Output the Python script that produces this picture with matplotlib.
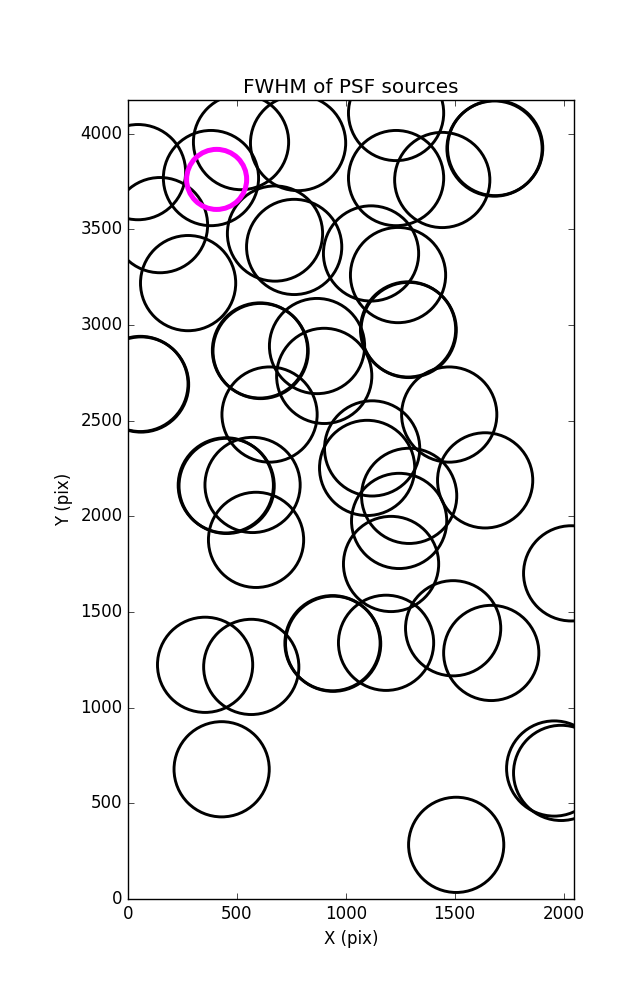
import numpy as np
import matplotlib
matplotlib.use('Agg')
import matplotlib.pyplot as plt

plt.style.use('classic')

# source positions (pix)
x_src = [46, 147, 381, 519, 781, 1231, 1231, 1443, 1686, 1683,
         276, 675, 763, 1116, 1240, 60, 57, 606, 609, 868,
         901, 1289, 1286, 650, 1475, 1121, 1098, 453, 449, 572,
         1291, 1245, 1640, 588, 1208, 2035, 354, 566, 942, 939,
         1185, 1493, 1668, 430, 1957, 1989, 1507]
y_src = [3799, 3522, 3768, 3956, 3951, 4108, 3768, 3758, 3925, 3922,
         3219, 3478, 3408, 3374, 3261, 2689, 2692, 2867, 2864, 2890,
         2734, 2974, 2977, 2532, 2532, 2355, 2253, 2159, 2162, 2164,
         2107, 1976, 2188, 1877, 1751, 1702, 1224, 1213, 1334, 1337,
         1339, 1415, 1286, 678, 682, 659, 283]

# highlighted source
x_sel = [407]
y_sel = [3761]

fig = plt.figure(figsize=(6.37, 10), dpi=100, facecolor='white')
ax = fig.add_axes([128/637., 101/1000., 446/637., 799/1000.])

ax.scatter(x_src, y_src, s=4700, facecolors='none', edgecolors='black', linewidths=2.1)
ax.scatter(x_sel, y_sel, s=1870, facecolors='none', edgecolors='magenta', linewidths=3.6, zorder=5)

ax.set_xlim(0, 2048)
ax.set_ylim(0, 4176)
ax.set_xticks([0, 500, 1000, 1500, 2000])
ax.set_yticks([0, 500, 1000, 1500, 2000, 2500, 3000, 3500, 4000])
ax.set_xlabel('X (pix)')
ax.set_ylabel('Y (pix)')
ax.set_title('FWHM of PSF sources')

fig.savefig('out.png', dpi=100, facecolor='white')
